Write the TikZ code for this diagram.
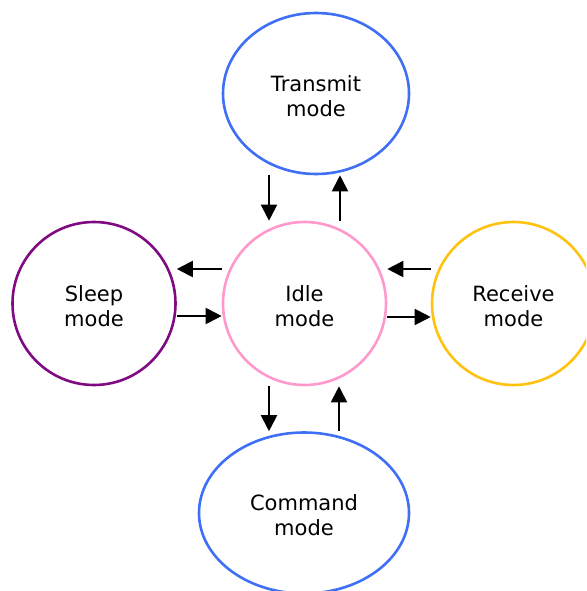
\documentclass[tikz,border=0pt]{standalone}
\usepackage{fontspec}
\setmainfont{DejaVu Sans}
\usetikzlibrary{shapes.geometric,arrows.meta,calc}
\definecolor{cblue}{HTML}{3F6FF5}
\definecolor{cpurple}{HTML}{7F0A82}
\definecolor{cpink}{HTML}{FF99CC}
\definecolor{cgold}{HTML}{FFC20E}
\newcommand\toppad{\rule{0pt}{20.5pt}}
\begin{document}
\begin{tikzpicture}[x=1pt,y=-1pt,
  state/.style={ellipse,draw,line width=2.6pt,inner sep=0pt,align=center,
    font=\fontsize{21}{25}\selectfont},
  arr/.style={line width=2pt,-{Triangle[length=16pt,width=16pt]}}]
\useasboundingbox (0,0) rectangle (586,591);
\clip (0,0) rectangle (586,591);
\node[state,draw=cblue,minimum width=186pt,minimum height=161pt] (tx) at (316,93.5) {\toppad Transmit\\mode};
\node[state,draw=cpink,minimum width=163pt,minimum height=163pt] (id) at (304.5,303.5) {\toppad Idle\\mode};
\node[state,draw=cpurple,minimum width=163pt,minimum height=163pt] (sl) at (94,303.5) {\toppad Sleep\\mode};
\node[state,draw=cgold,minimum width=163pt,minimum height=163pt] (rc) at (513.5,303.5) {\toppad Receive\\mode};
\node[state,draw=cblue,minimum width=210pt,minimum height=161pt] (cm) at (304,513) {\toppad Command\\mode};
\draw[arr] ([xshift=-47pt]tx.south) -- ([xshift=-35.5pt]id.north);
\draw[arr] ([xshift=35.5pt]id.north) -- ([xshift=24pt]tx.south);
\draw[arr] ([yshift=34.5pt]id.west) -- ([yshift=34.5pt]sl.east);
\draw[arr] ([yshift=-12.5pt]sl.east) -- ([yshift=-12.5pt]id.west);
\draw[arr] ([yshift=34.5pt]rc.west) -- ([yshift=34.5pt]id.east);
\draw[arr] ([yshift=-13.5pt]id.east) -- ([yshift=-13.5pt]rc.west);
\draw[arr] ([xshift=-35.5pt]id.south) -- ([xshift=-35pt]cm.north);
\draw[arr] ([xshift=35pt]cm.north) -- ([xshift=34.5pt]id.south);
\end{tikzpicture}
\end{document}
